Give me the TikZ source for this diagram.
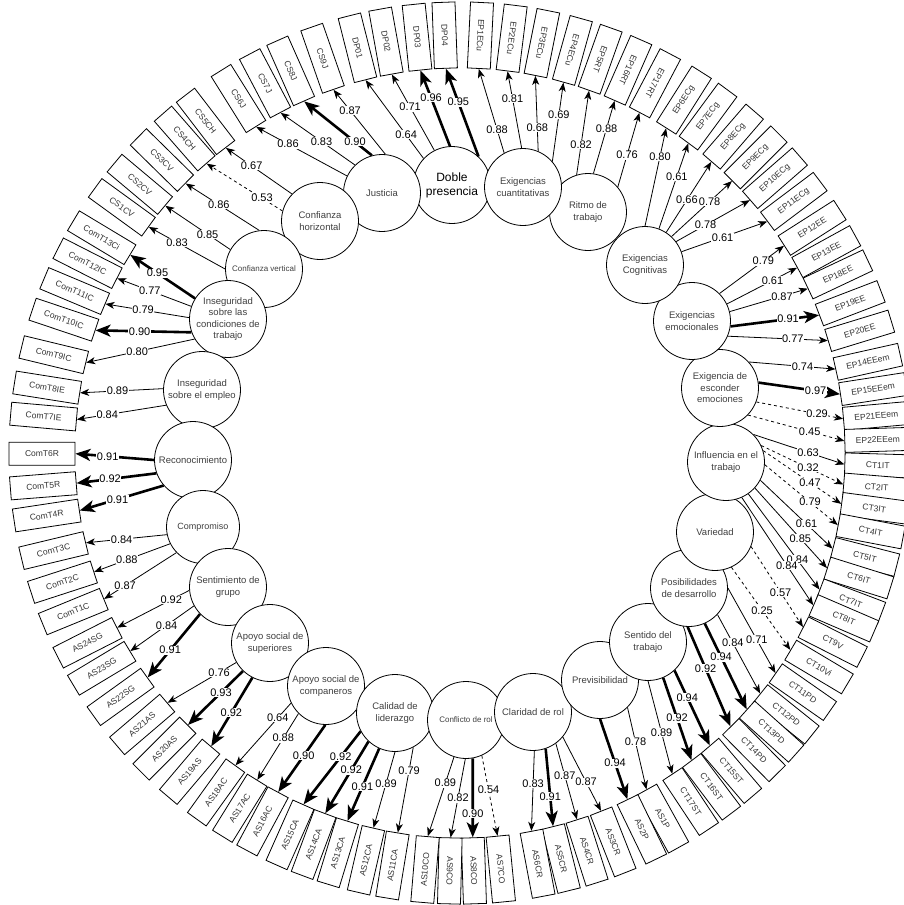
\documentclass[tikz,border=0pt]{standalone}
\usepackage{fontspec}
\setmainfont{Liberation Sans}
\usetikzlibrary{arrows.meta}
\tikzset{
 fac/.style={circle, draw=black, line width=0.8pt, fill=white, minimum size=77pt, inner sep=0pt, align=center, font=\fontsize{9.5}{11.5}\selectfont, text=black!75},
 ibox/.style={rectangle, draw=black, line width=0.8pt, fill=white, minimum width=66pt, minimum height=23pt, inner sep=0pt, font=\fontsize{8.5}{9}\selectfont, text=black!80},
 lnthin/.style={line width=0.8pt, -{Stealth[length=9pt,width=7pt,inset=2.5pt]}},
 lnthick/.style={line width=2.6pt, -{Stealth[length=15pt,width=12pt,inset=4pt]}},
 lndash/.style={line width=0.8pt, dash pattern=on 3pt off 3pt, -{Stealth[length=9pt,width=7pt,inset=2.5pt]}},
 lab/.style={fill=white, inner sep=0.6pt, font=\fontsize{11}{12}\selectfont, text=black},
}
\def\mydata{%
87.2/EP1ECu/cuan/119/0.88/lnthin/0.28,
82.9/EP2ECu/cuan/92/0.81/lnthin/0.65,
78.7/EP3ECu/cuan/67/0.68/lnthin/0.31,
74.4/EP4ECu/cuan/41/0.69/lnthin/0.59,
70.4/EP5RT/ritm/107/0.82/lnthin/0.36,
66.3/EP16RT/ritm/82/0.88/lnthin/0.62,
62.2/EP17RT/ritm/40/0.76/lnthin/0.43,
57.6/EP6ECg/cogn/90/0.80/lnthin/0.71,
53.6/EP7ECg/cogn/69/0.61/lnthin/0.61,
49.2/EP8ECg/cogn/57/0.66/lnthin/0.46,
45/EP9ECg/cogn/47/0.78/lnthin/0.63,
41.1/EP10ECg/cogn/37/0.78/lnthin/0.4,
37/EP11ECg/cogn/20/0.61/lnthin/0.48,
32.6/EP12EE/emoc/45/0.79/lnthin/0.68,
28.8/EP13EE/emoc/26/0.61/lnthin/0.65,
25.3/EP18EE/emoc/14/0.87/lnthin/0.67,
21/EP19EE/emoc/352/0.91/lnthick/0.65,
17/EP20EE/emoc/337/0.77/lnthin/0.65,
12.6/EP14EEem/esco/42/0.74/lnthin/0.62,
8.8/EP15EEem/esco/8/0.97/lnthick/0.7,
5.1/EP21EEem/esco/339/0.29/lndash/0.7,
1.8/EP22EEem/esco/316/0.45/lndash/0.64,
358.3/CT1IT/infl/45/0.63/lnthin/0.6,
355.3/CT2IT/infl/25/0.32/lndash/0.57,
352.4/CT3IT/infl/17/0.47/lndash/0.6,
349.2/CT4IT/infl/356/0.79/lndash/0.62,
345.6/CT5IT/infl/332/0.61/lnthin/0.64,
342.6/CT6IT/infl/318/0.85/lnthin/0.63,
339.2/CT7IT/infl/305/0.84/lnthin/0.69,
336.7/CT8IT/infl/294/0.84/lnthin/0.63,
333.1/CT9V/vari/338/0.57/lndash/0.57,
329.2/CT10Vi/vari/295/0.25/lndash/0.52,
325.1/CT11PD/posi/0/0.71/lnthin/0.61,
321.3/CT12PD/posi/317/0.84/lnthin/0.36,
318.2/CT13PD/posi/294/0.94/lnthick/0.39,
314.7/CT14PD/posi/268/0.92/lnthick/0.42,
310.5/CT15ST/sntd/313/0.94/lnthick/0.36,
307/CT16ST/sntd/293/0.92/lnthick/0.49,
303.5/CT17ST/sntd/270/0.89/lnthin/0.56,
299/AS1P/prev/315/0.78/lnthin/0.42,
295.8/AS2P/prev/270/0.94/lnthick/0.55,
291.5/AS3CR/clar/320/0.87/lnthin/0.61,
287.7/AS4CR/clar/306/0.87/lnthin/0.42,
284/AS5CR/clar/289/0.91/lnthick/0.62,
280.7/AS6CR/clar/272/0.83/lnthin/0.41,
275.6/AS7CO/conf/294/0.54/lndash/0.43,
271.9/AS8CO/conf/280/0.90/lnthick/0.7,
268.6/AS9CO/conf/269/0.82/lnthin/0.5,
265.2/AS10CO/conf/252/0.89/lnthin/0.33,
260.7/AS11CA/cali/298/0.79/lnthin/0.27,
257/AS12CA/cali/270/0.89/lnthin/0.42,
253/AS13CA/cali/246/0.91/lnthick/0.53,
249.5/AS14CA/cali/227/0.92/lnthick/0.4,
246/AS15CA/cali/208/0.92/lnthick/0.35,
241.8/AS16AC/acom/269/0.90/lnthick/0.46,
238.2/AS17AC/acom/225/0.88/lnthin/0.37,
234.3/AS18AC/acom/206/0.64/lnthin/0.24,
229.7/AS19AS/asup/243/0.92/lnthick/0.51,
225/AS20AS/asup/226/0.93/lnthick/0.4,
220.5/AS21AS/asup/210/0.76/lnthin/0.25,
215.7/AS22SG/sgru/224/0.91/lnthick/0.57,
211/AS23SG/sgru/209/0.84/lnthin/0.43,
207/AS24SG/sgru/185/0.92/lnthin/0.25,
202.3/ComT1C/comp/224/0.87/lnthin/0.71,
198/ComT2C/comp/207/0.88/lnthin/0.57,
193.5/ComT3C/comp/192/0.84/lnthin/0.56,
188.6/ComT4R/reco/221/0.91/lnthick/0.55,
184.5/ComT5R/reco/200/0.92/lnthick/0.58,
180.1/ComT6R/reco/180/0.91/lnthick/0.59,
175/ComT7IE/iemp/203/0.84/lnthin/0.66,
171/ComT8IE/iemp/178/0.89/lnthin/0.55,
166.4/ComT9IC/icon/211/0.80/lnthin/0.53,
161.4/ComT10IC/icon/200/0.90/lnthick/0.54,
157.2/ComT11IC/icon/178/0.79/lnthin/0.55,
153/ComT12IC/icon/161/0.77/lnthin/0.56,
149/ComT13Ci/icon/148/0.95/lnthick/0.58,
144/CS1CV/cver/180/0.83/lnthin/0.63,
140/CS2CV/cver/150/0.85/lnthin/0.35,
135.5/CS3CV/cver/97/0.86/lnthin/0.55,
131.2/CS4CH/chor/165/0.53/lndash/0.27,
127.5/CS5CH/chor/136/0.67/lnthin/0.61,
122/CS6J/just/154/0.86/lnthin/0.65,
117.8/CS7J/just/134/0.83/lnthin/0.45,
113.9/CS8J/just/105/0.90/lnthick/0.25,
109.2/CS9J/just/85/0.87/lnthin/0.68,
104.2/DP01/dp/137/0.64/lnthin/0.3,
100.2/DP02/dp/117/0.71/lnthin/0.57,
95.9/DP03/dp/93/0.96/lnthick/0.64,
92.1/DP04/dp/47/0.95/lnthick/0.62}
\begin{document}
\begin{tikzpicture}[x=1pt,y=1pt]
\fill[white] (0,0) rectangle (904,-905);
\useasboundingbox (0,0) rectangle (904,-905);
\coordinate (C) at (460,-453);
% factors
\node[fac, font=\fontsize{12}{14}\selectfont, text=black] (dp) at (452,-185) {Doble\\presencia};
\node[fac] (just) at (382,-193) {Justicia};
\node[fac] (chor) at (320,-221) {Confianza\\horizontal};
\node[fac, font=\fontsize{8}{10}\selectfont] (cver) at (264,-269) {Confianza vertical};
\node[fac] (icon) at (228,-319) {Inseguridad\\sobre las\\condiciones de\\trabajo};
\node[fac] (iemp) at (202,-390) {Inseguridad\\sobre el empleo};
\node[fac] (reco) at (193,-460) {Reconocimiento};
\node[fac, minimum size=73pt, font=\fontsize{9}{11}\selectfont] (comp) at (203,-527) {Compromiso};
\node[fac] (sgru) at (228,-587) {Sentimiento de\\grupo};
\node[fac] (asup) at (270,-643) {Apoyo social de\\superiores};
\node[fac] (acom) at (326,-686) {Apoyo social de\\companeros};
\node[fac] (cali) at (395,-713) {Calidad de\\liderazgo};
\node[fac, font=\fontsize{8}{10}\selectfont] (conf) at (466,-720) {Conflicto de rol};
\node[fac] (clar) at (533,-712) {Claridad de rol};
\node[fac] (prev) at (600,-680) {Previsibilidad};
\node[fac] (sntd) at (648,-642) {Sentido del\\trabajo};
\node[fac] (posi) at (689,-588) {Posibilidades\\de desarrollo};
\node[fac] (vari) at (715,-532) {Variedad};
\node[fac] (infl) at (726,-462) {Influencia en el\\trabajo};
\node[fac] (esco) at (720,-388) {Exigencia de\\esconder\\emociones};
\node[fac] (emoc) at (692,-321) {Exigencias\\emocionales};
\node[fac] (cogn) at (645,-265) {Exigencias\\Cognitivas};
\node[fac] (ritm) at (588,-212) {Ritmo de\\trabajo};
\node[fac] (cuan) at (523,-187) {Exigencias\\cuantitativas};
% indicator boxes
\foreach \ang/\nm/\fc/\sa/\val/\sty/\ps in \mydata {
  \pgfmathtruncatemacro\outw{((\ang>=267) || (\ang<60)) ? 1 : 0}
  \ifnum\outw=1
    \node[ibox, rotate=\ang] (\nm) at ([shift={(\ang:418)}]C) {\nm};
  \else
    \node[ibox, rotate=\ang+180] (\nm) at ([shift={(\ang:418)}]C) {\nm};
  \fi
}
% loadings
\foreach \ang/\nm/\fc/\sa/\val/\sty/\ps in \mydata {
  \pgfmathtruncatemacro\outw{((\ang>=267) || (\ang<60)) ? 1 : 0}
  \ifnum\outw=1
    \draw[\sty] (\fc.\sa) -- node[lab, pos=\ps]{\val} (\nm.west);
  \else
    \draw[\sty] (\fc.\sa) -- node[lab, pos=\ps]{\val} (\nm.east);
  \fi
}
\end{tikzpicture}
\end{document}
